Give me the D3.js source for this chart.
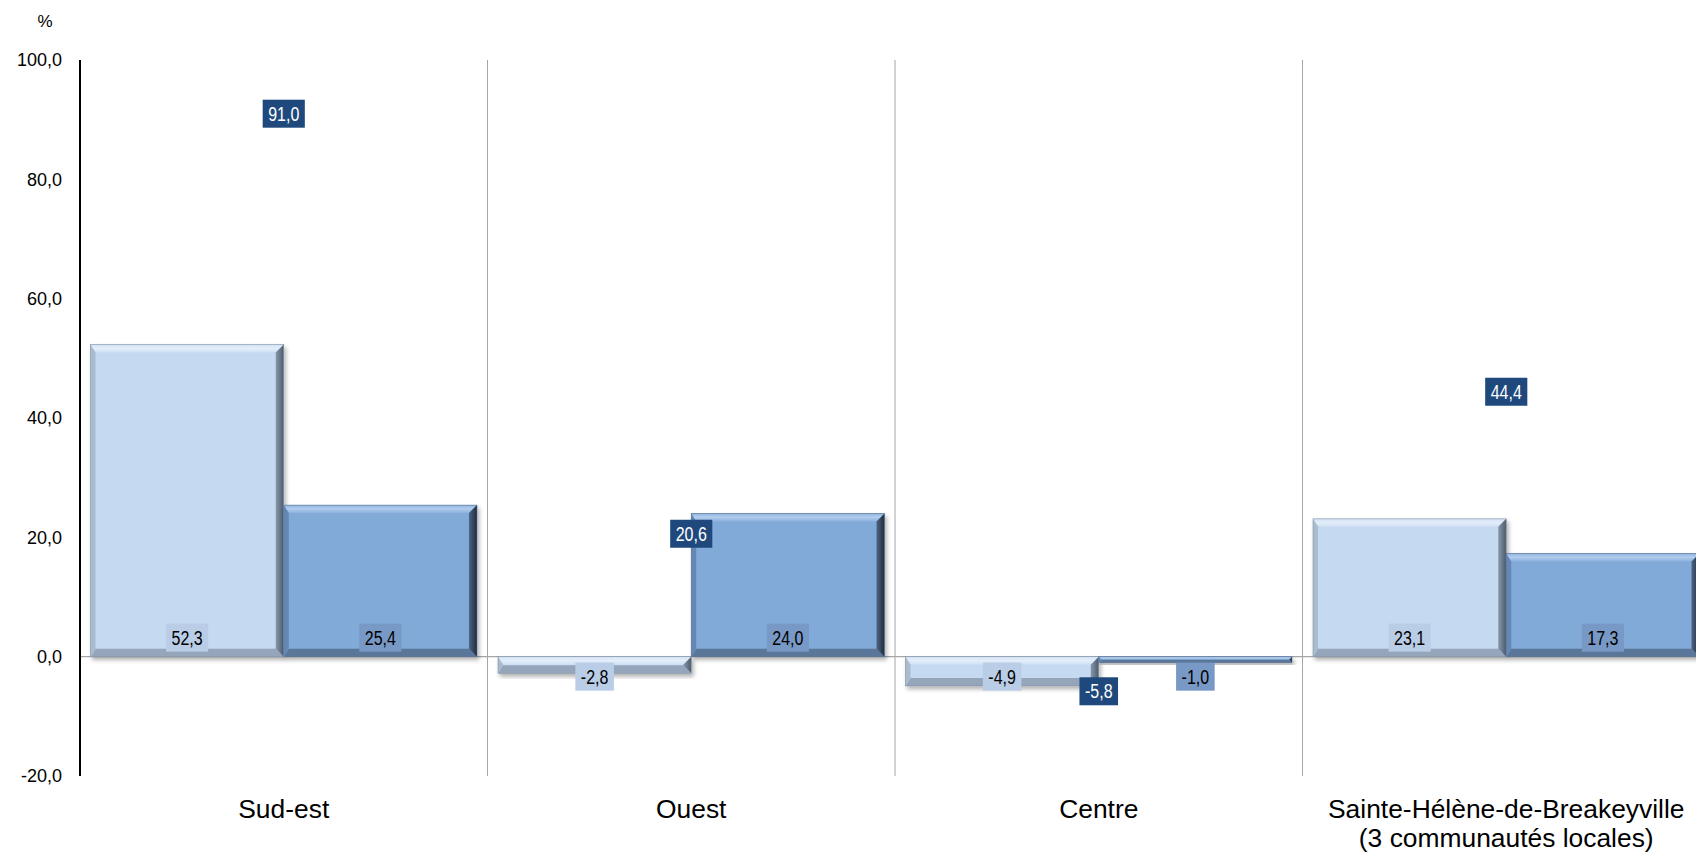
<!DOCTYPE html>
<html><head><meta charset="utf-8">
<script src="https://cdn.jsdelivr.net/npm/d3@7"></script>
<style>
html,body{margin:0;padding:0;background:#fff;}
svg{display:block;}
</style></head>
<body>
<svg id="chart" width="1696" height="852"></svg>
<script>
const categories = ["Sud-est", "Ouest", "Centre", "Sainte-Hélène-de-Breakeyville|(3 communautés locales)"];
const series1 = [52.3, -2.8, -4.9, 23.1];
const series2 = [25.4, 24.0, -1.0, 17.3];
const series3 = [91.0, 20.6, -5.8, 44.4];
const yTicks = [-20, 0, 20, 40, 60, 80, 100];

(function () {
const svg = d3.select("#chart");
const W = 1696, H = 852;
const plotL = 80, plotT = 60, plotB = 776;
const bandW = 407.5;
const x = d3.scaleBand().domain(categories).range([plotL, plotL + bandW * categories.length]).padding(0);
const x1 = d3.scaleBand().domain([0, 1]).range([10.5, bandW - 10.5]).padding(0);
const y = d3.scaleLinear().domain([-20, 100]).range([plotB, plotT]);
const fmt = v => d3.format(".1f")(v).replace(".", ",").replace("−", "-");

const defs = svg.append("defs");
const f = defs.append("filter").attr("id", "sh").attr("x", "-10%").attr("y", "-10%").attr("width", "130%").attr("height", "140%");
f.append("feDropShadow").attr("dx", 2).attr("dy", 3).attr("stdDeviation", 2).attr("flood-color", "#000").attr("flood-opacity", 0.3);

function grad(id, x2, y2, stops) {
  const g = defs.append("linearGradient").attr("id", id).attr("x1", 0).attr("y1", 0).attr("x2", x2).attr("y2", y2);
  stops.forEach(s => g.append("stop").attr("offset", s[0]).attr("stop-color", s[1]));
}
const styles = [
  {base: "#c5d9f1", top: ["#d0e1f5", "#e4eefa", "#cfe0f4"], left: "#a9bccf", right: ["#8797ab", "#4d5b6c"], bottom: "#95a5ba", stroke: "#8493a6", lab: "#b9cde6"},
  {base: "#82aad9", top: ["#8fb3df", "#b2cdee", "#8db1dd"], left: "#6587b3", right: ["#4d6585", "#1f2b3a"], bottom: "#5a7699", stroke: "#5a7393", lab: "#7898c5"}
];
styles.forEach((s, i) => {
  grad("t" + i, 0, 1, [[0, s.top[0]], [0.45, s.top[1]], [1, s.top[2]]]);
  grad("r" + i, 1, 0, [[0, s.right[0]], [1, s.right[1]]]);
});

const g = svg.append("g");
d3.range(1, categories.length + 1).forEach(i => {
  const xx = plotL + bandW * i;
  g.append("line").attr("x1", xx).attr("x2", xx).attr("y1", plotT).attr("y2", plotB)
    .attr("stroke", "#a6a6a6").attr("stroke-width", 1);
});
g.append("line").attr("x1", plotL).attr("x2", W).attr("y1", y(0)).attr("y2", y(0))
  .attr("stroke", "#a6a6a6").attr("stroke-width", 1.2);

const bars = svg.append("g");
[series1, series2].forEach((ser, si) => {
  const s = styles[si];
  ser.forEach((v, ci) => {
    const x0 = x(categories[ci]) + x1(si), w = x1.bandwidth();
    const y0 = Math.min(y(v), y(0)), h = Math.abs(y(v) - y(0));
    const b = Math.min(8, h / 2, w / 2);
    const bl = Math.min(5, h / 2, w / 2);
    const bg = bars.append("g").attr("filter", "url(#sh)");
    bg.append("rect").attr("x", x0).attr("y", y0).attr("width", w).attr("height", h).attr("fill", s.base);
    const P = pts => pts.map(p => p.join(",")).join(" ");
    bg.append("polygon").attr("points", P([[x0, y0], [x0 + w, y0], [x0 + w - b, y0 + b], [x0 + bl, y0 + b]])).attr("fill", `url(#t${si})`);
    bg.append("polygon").attr("points", P([[x0, y0 + h], [x0 + w, y0 + h], [x0 + w - b, y0 + h - b], [x0 + bl, y0 + h - b]])).attr("fill", s.bottom);
    bg.append("polygon").attr("points", P([[x0, y0], [x0 + bl, y0 + b], [x0 + bl, y0 + h - b], [x0, y0 + h]])).attr("fill", s.left);
    bg.append("polygon").attr("points", P([[x0 + w, y0], [x0 + w - b, y0 + b], [x0 + w - b, y0 + h - b], [x0 + w, y0 + h]])).attr("fill", `url(#r${si})`);
    bg.append("rect").attr("x", x0).attr("y", y0).attr("width", w).attr("height", h).attr("fill", "none").attr("stroke", s.stroke).attr("stroke-width", 0.6);
  });
});

svg.append("line").attr("x1", plotL).attr("x2", plotL).attr("y1", plotT).attr("y2", plotB).attr("stroke", "#000").attr("stroke-width", 2);
const yAxis = d3.axisLeft(y).tickValues(yTicks).tickFormat(fmt).tickSize(0).tickPadding(18);
const ya = svg.append("g").attr("transform", `translate(${plotL},0)`).call(yAxis);
ya.select(".domain").remove();
ya.selectAll("text").attr("font-family", "Liberation Sans, Arial, sans-serif").attr("font-size", 18).attr("fill", "#000");

svg.append("text").attr("x", 45).attr("y", 27).attr("text-anchor", "middle")
  .attr("font-family", "Liberation Sans, Arial, sans-serif").attr("font-size", 17).text("%");

categories.forEach(c => {
  const lines = c.split("|");
  const t = svg.append("text").attr("x", x(c) + bandW / 2).attr("y", 818).attr("text-anchor", "middle")
    .attr("font-family", "Liberation Sans, Arial, sans-serif").attr("font-size", 26.4).attr("fill", "#000");
  lines.forEach((l, i) => t.append("tspan").attr("x", x(c) + bandW / 2).attr("dy", i === 0 ? 0 : 29).text(l));
});

const labG = svg.append("g");
function label(cx, cy, txt, bg, col) {
  const gg = labG.append("g");
  const r = gg.append("rect");
  const t = gg.append("text").attr("x", 0).attr("y", 0).attr("text-anchor", "middle").attr("dy", "0.36em")
    .attr("transform", `translate(${cx},${cy}) scale(0.8,1)`)
    .attr("font-family", "Liberation Sans, Arial, sans-serif")
    .attr("font-size", 20).attr("fill", col).text(txt);
  const tw = t.node().getComputedTextLength() * 0.8;
  r.attr("x", cx - tw / 2 - 5.5).attr("y", cy - 14).attr("width", tw + 11).attr("height", 28).attr("fill", bg);
}
[series1, series2].forEach((ser, si) => {
  ser.forEach((v, ci) => {
    const cx = x(categories[ci]) + x1(si) + x1.bandwidth() / 2;
    const cy = v >= 0 ? y(0) - 19 : y(0) + 20;
    label(cx, cy, fmt(v), styles[si].lab, "#000");
  });
});
series3.forEach((v, ci) => {
  label(x(categories[ci]) + bandW / 2, y(v), fmt(v), "#1f497d", "#fff");
});
})();
</script>
</body></html>
